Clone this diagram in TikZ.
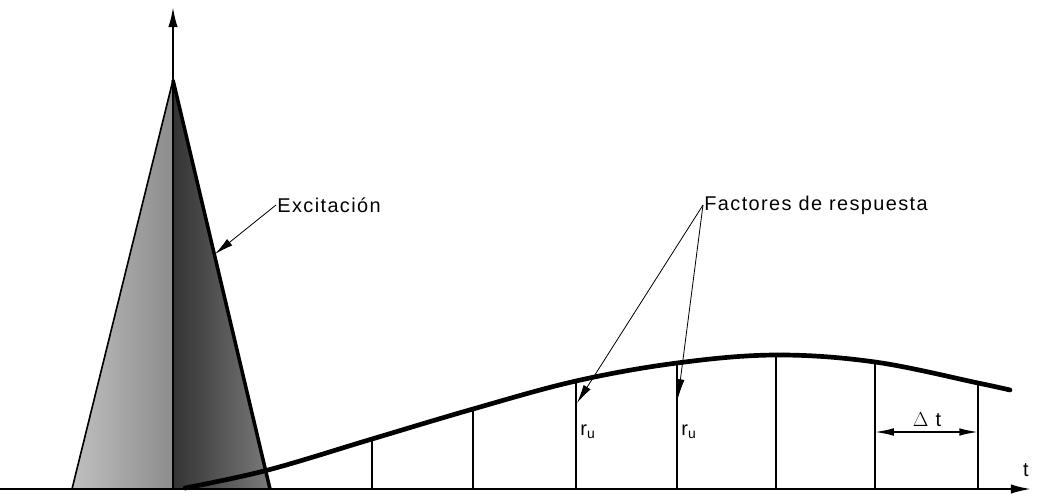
\documentclass[tikz,border=0pt]{standalone}
\usepackage{fontspec}
\setmainfont{Liberation Sans}[LetterSpace=7]
\usetikzlibrary{arrows.meta}

\begin{document}
\begin{tikzpicture}[
    x=0.03cm, y=-0.03cm,
    every node/.style={font=\fontsize{17}{19}\selectfont, inner sep=1pt},
    axisline/.style={line width=2.3pt, -{Latex[length=18pt, width=8pt]}},
    respline/.style={line width=4pt, line cap=round},
    ordline/.style={line width=1.1pt},
    leader/.style={line width=0.7pt, -{Latex[length=16pt, width=7pt]}},
    dimline/.style={line width=1.4pt, {Latex[length=16pt, width=6.5pt]}-{Latex[length=16pt, width=6.5pt]}}
]
\useasboundingbox (0,0) rectangle (1037,497);
% axes and triangle corners
\coordinate (org) at (0,489);
\coordinate (tend) at (1032,489);
\coordinate (foot) at (173,489);
\coordinate (apex) at (173,80);
\coordinate (ytop) at (173,6);
\coordinate (lbase) at (72,489);
\coordinate (rbase) at (270,489);
% excitation triangle
\shade[left color=black!25, right color=black!45] (lbase) -- (apex) -- (foot) -- cycle;
\shade[left color=black!80, right color=black!52] (foot) -- (apex) -- (rbase) -- cycle;
\draw[line width=1.4pt] (lbase) -- (apex);
\draw[line width=3pt] (apex) -- (rbase);
\draw[line width=2.4pt] (foot) -- (apex);
\draw[axisline] (apex) -- (ytop);
\draw[axisline] (org) -- (tend);
% response curve and ordinates
\draw[respline] plot[smooth, tension=0.6] coordinates {(185,488) (268,470) (372,439) (473,409) (576,381) (677,363) (776,355) (875,362) (978,383) (1010,390)};
\foreach \x/\y in {372/440,473/410,576/382,677/364,776/356,875/363,978/384}
  \draw[ordline] (\x,489) -- (\x,\y);
% labels
\node[anchor=west] (exc) at (276,205) {Excitación};
\coordinate (exct) at (215,254);
\draw[leader] (exc.west) -- (exct);
\node[anchor=west] (fac) at (703,205) {Factores de respuesta};
\coordinate (ru1t) at (577,403);
\coordinate (ru2t) at (678,398);
\draw[leader] (fac.west) -- (ru1t);
\draw[leader] (fac.west) -- (ru2t);
\node[anchor=west] (ru1) at (579,432) {r\textsubscript{u}};
\node[anchor=west] (ru2) at (680,432) {r\textsubscript{u}};
\coordinate (dtl) at (875,432);
\coordinate (dtr) at (978,432);
\draw[dimline] (dtl) -- (dtr);
\node (dt) at (927,420) {$\Delta$ t};
\node (tlab) at (1026,470) {t};
\end{tikzpicture}
\end{document}
